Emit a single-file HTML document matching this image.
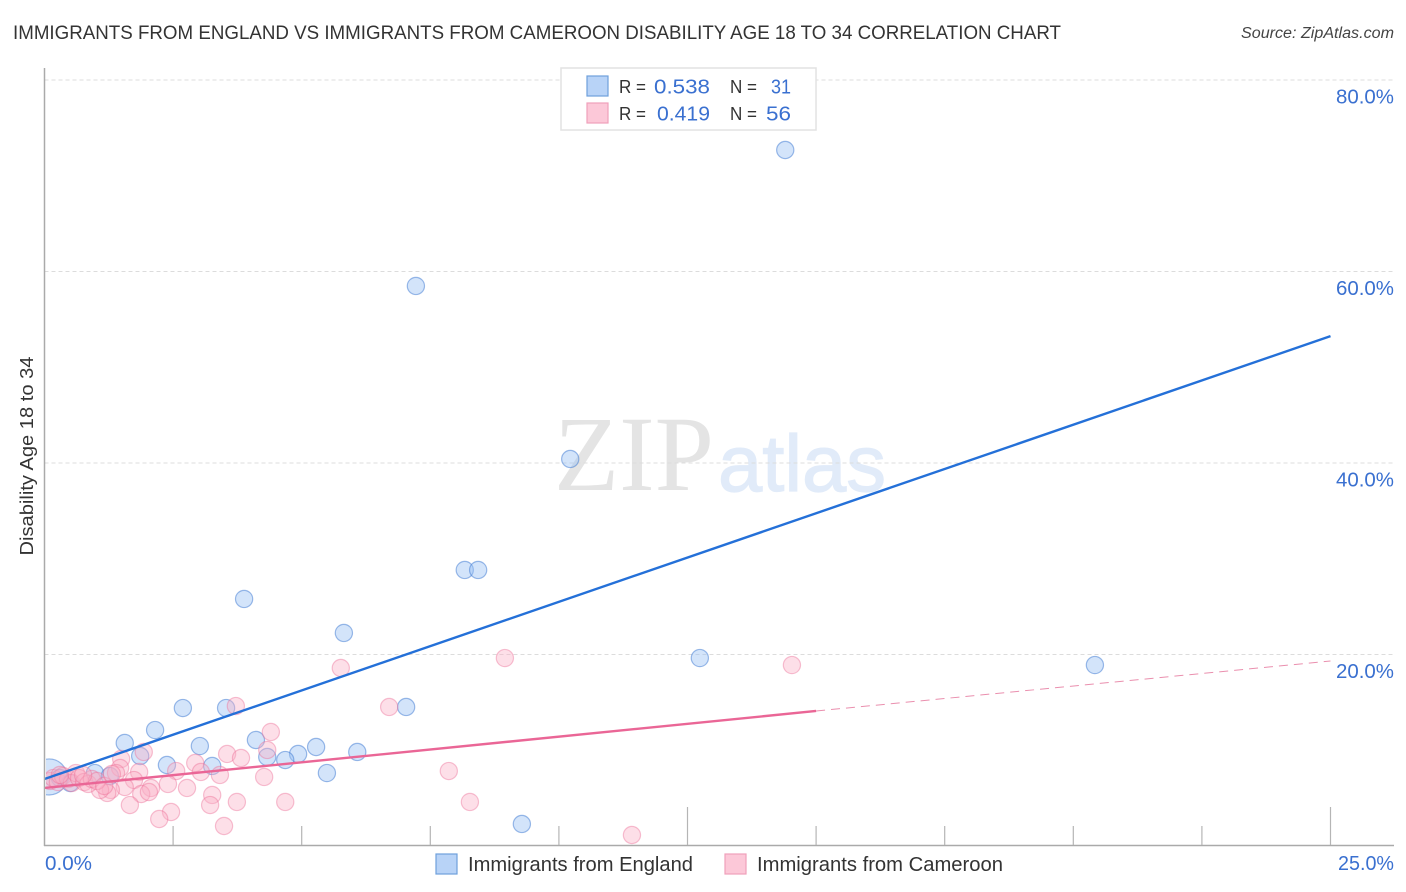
<!DOCTYPE html>
<html lang="en">
<head>
<meta charset="utf-8">
<title>Immigrants from England vs Immigrants from Cameroon Disability Age 18 to 34 Correlation Chart</title>
<style>
html,body{margin:0;padding:0;background:#fff;width:1406px;height:892px;overflow:hidden}
svg{display:block;font-family:"Liberation Sans",sans-serif}
</style>
</head>
<body>
<svg id="chart" width="1406" height="892" viewBox="0 0 1406 892">
  <defs>
    <clipPath id="plot-clip"><rect x="46" y="60" width="1350" height="786"/></clipPath>
  </defs>
  <rect width="1406" height="892" fill="#fff"/>
  <text x="13" y="39" font-size="19.5" fill="#333" textLength="1048" lengthAdjust="spacingAndGlyphs">IMMIGRANTS FROM ENGLAND VS IMMIGRANTS FROM CAMEROON DISABILITY AGE 18 TO 34 CORRELATION CHART</text>
  <text x="1394" y="38" font-size="15.5" font-style="italic" fill="#444" text-anchor="end" textLength="153" lengthAdjust="spacingAndGlyphs">Source: ZipAtlas.com</text>

  <g>
    <text x="554" y="490" font-family="'Liberation Serif',serif" font-size="107" fill="#e4e4e4" textLength="160" lengthAdjust="spacingAndGlyphs">ZIP</text>
    <text x="718" y="491" font-size="80" fill="#e1ebf9" stroke="#e1ebf9" stroke-width="1.2" textLength="168" lengthAdjust="spacingAndGlyphs">atlas</text>
  </g>

  <g id="grid"></g>
  <g id="england-points" clip-path="url(#plot-clip)"></g>
  <g id="cameroon-points" clip-path="url(#plot-clip)"></g>
  <rect x="0" y="740" width="46" height="75" fill="#fff"/>
  <g id="trends"></g>
  <g id="axes"></g>

  <text transform="translate(33,456) rotate(-90)" font-size="18.5" fill="#333" text-anchor="middle" textLength="199" lengthAdjust="spacingAndGlyphs">Disability Age 18 to 34</text>

  <g>
    <rect x="561" y="68" width="255" height="62" fill="#fff" stroke="#e2e2e2" stroke-width="1.5"/>
    <rect x="587" y="76" width="21" height="20" fill="#b8d3f7" stroke="#6fa0dc" stroke-width="1.2"/>
    <rect x="587" y="103" width="21" height="20" fill="#fcc8d8" stroke="#f0a0ba" stroke-width="1.2"/>
    <text x="619" y="93" font-size="18.5" fill="#333" textLength="27" lengthAdjust="spacingAndGlyphs">R =</text>
    <text x="654" y="93.5" font-size="20.5" fill="#3a70d0" textLength="56" lengthAdjust="spacingAndGlyphs">0.538</text>
    <text x="730" y="93" font-size="18.5" fill="#333" textLength="27" lengthAdjust="spacingAndGlyphs">N =</text>
    <text x="771" y="93.5" font-size="20.5" fill="#3a70d0" textLength="20" lengthAdjust="spacingAndGlyphs">31</text>
    <text x="619" y="120" font-size="18.5" fill="#333" textLength="27" lengthAdjust="spacingAndGlyphs">R =</text>
    <text x="657" y="120.5" font-size="20.5" fill="#3a70d0" textLength="53" lengthAdjust="spacingAndGlyphs">0.419</text>
    <text x="730" y="120" font-size="18.5" fill="#333" textLength="27" lengthAdjust="spacingAndGlyphs">N =</text>
    <text x="766" y="120.5" font-size="20.5" fill="#3a70d0" textLength="25" lengthAdjust="spacingAndGlyphs">56</text>
  </g>

  <g>
    <rect x="436" y="854" width="21" height="20" fill="#b8d3f7" stroke="#6fa0dc" stroke-width="1.2"/>
    <text x="468" y="871" font-size="20" fill="#333" textLength="225" lengthAdjust="spacingAndGlyphs">Immigrants from England</text>
    <rect x="725" y="854" width="21" height="20" fill="#fcc8d8" stroke="#f0a0ba" stroke-width="1.2"/>
    <text x="757" y="871" font-size="20" fill="#333" textLength="246" lengthAdjust="spacingAndGlyphs">Immigrants from Cameroon</text>
  </g>
</svg>
<script>
const yTickValues = [20, 40, 60, 80];
const yTickLabels = ['20.0%', '40.0%', '60.0%', '80.0%'];
const xTickValues = [2.5, 5, 7.5, 10, 12.5, 15, 17.5, 20, 22.5, 25];
const xMajorTicks = [12.5, 25];
const xEndLabels = ['0.0%', '25.0%'];

const englandX = [14.40,7.22,10.22,8.17,8.43,3.88,5.82,12.74,20.42,2.69,3.53,7.03,2.15,1.56,3.02,4.11,5.28,6.08,4.93,4.68,4.33,1.86,2.38,3.26,5.49,9.28,0.98,1.27,0.09,0.50,0.30];
const englandY = [72.69,58.49,40.42,28.83,28.83,25.80,22.25,19.63,18.90,14.41,14.41,14.52,12.11,10.76,10.44,11.07,10.34,9.82,9.61,8.98,9.30,9.40,8.46,8.36,7.62,2.30,7.62,7.31,7.21,6.58,7.10];
const englandWeight = [1,1,1,1,1,1,1,1,1,1,1,1,1,1,1,1,1,1,1,1,1,1,1,1,1,1,1,1,4.4,1,1];

const cameroonX = [5.76,3.72,4.40,1.93,1.49,4.33,3.55,3.82,2.93,2.56,3.04,3.41,4.27,1.84,1.47,1.39,1.74,2.40,2.77,1.56,2.07,1.88,2.03,1.29,1.22,1.08,1.66,3.26,3.22,3.74,4.68,2.46,2.23,3.49,8.95,14.53,6.70,7.86,8.27,11.42,0.11,0.17,0.26,0.36,0.46,0.53,0.61,0.67,0.77,0.85,0.92,1.02,0.75,1.16,0.30,1.31];
const cameroonY = [18.59,14.62,11.91,9.82,9.09,10.03,9.61,9.19,8.67,7.83,7.73,7.42,7.21,7.73,8.15,7.62,6.89,6.48,6.06,6.16,6.06,5.43,5.64,5.85,5.54,5.85,4.28,5.33,4.28,4.60,4.60,3.55,2.82,2.09,19.63,18.90,14.52,7.83,4.60,1.15,6.79,7.10,6.68,7.31,7.00,6.58,7.62,7.10,6.68,6.48,7.00,6.79,7.42,6.27,7.42,7.52];

const englandTrendX = [0, 25];
const englandTrendY = [7.00, 53.25];
const cameroonTrendX = [0, 15];
const cameroonTrendY = [6.06, 14.10];
const cameroonForecastX = [15, 25];
const cameroonForecastY = [14.10, 19.32];

const NS = 'http://www.w3.org/2000/svg';
function xScale(v) { return 44.5 + v * 51.44; }
function yScale(v) { return 846 - v * 9.575; }
function make(parent, tag, attrs) {
  const el = document.createElementNS(NS, tag);
  for (const k in attrs) el.setAttribute(k, attrs[k]);
  parent.appendChild(el);
  return el;
}

const grid = document.getElementById('grid');
const axes = document.getElementById('axes');
const englandGroup = document.getElementById('england-points');
const cameroonGroup = document.getElementById('cameroon-points');
const trends = document.getElementById('trends');

yTickValues.forEach(function (v, i) {
  const y = yScale(v);
  const line = make(grid, 'line', {x1: 44.5, x2: 1393, y1: y, y2: y, stroke: '#dcdcdc', 'stroke-width': 1, 'stroke-dasharray': '4 3'});
  
  
  const label = make(axes, 'text', {x: 1394, y: y + 23.5, 'font-size': 20, fill: '#3a70d0', 'text-anchor': 'end', textLength: 58, lengthAdjust: 'spacingAndGlyphs'});
  label.textContent = yTickLabels[i];
  
  
});

const yAxisLine = make(axes, 'line', {x1: 44.5, x2: 44.5, y1: 68, y2: 846, stroke: '#aaa', 'stroke-width': 1.5});


const xAxisLine = make(axes, 'line', {x1: 44, x2: 1394, y1: 845.5, y2: 845.5, stroke: '#aaa', 'stroke-width': 1.5});



xTickValues.forEach(function (v) {
  const x = xScale(v);
  const top = xMajorTicks.indexOf(v) >= 0 ? 807 : 826;
  const tick = make(axes, 'line', {x1: x, x2: x, y1: top, y2: 845, stroke: '#b5b5b5', 'stroke-width': 1.2});
  
  
});

const xLabelStart = make(axes, 'text', {x: 45, y: 870, 'font-size': 20, fill: '#3a70d0', textLength: 47, lengthAdjust: 'spacingAndGlyphs'});
xLabelStart.textContent = xEndLabels[0];


const xLabelEnd = make(axes, 'text', {x: 1394, y: 870, 'font-size': 20, fill: '#3a70d0', 'text-anchor': 'end', textLength: 56, lengthAdjust: 'spacingAndGlyphs'});
xLabelEnd.textContent = xEndLabels[1];



englandX.forEach(function (v, i) {
  const pt = make(englandGroup, 'circle', {
    cx: xScale(v), cy: yScale(englandY[i]), r: 8.6 * Math.sqrt(englandWeight[i]),
    fill: 'rgba(150,190,242,0.42)', stroke: 'rgba(60,120,210,0.5)', 'stroke-width': 1.2
  });
  
  
});

cameroonX.forEach(function (v, i) {
  const pt = make(cameroonGroup, 'circle', {
    cx: xScale(v), cy: yScale(cameroonY[i]), r: 8.6,
    fill: 'rgba(250,175,198,0.4)', stroke: 'rgba(235,110,150,0.42)', 'stroke-width': 1.2
  });
  
  
});

const englandTrend = make(trends, 'line', {
  x1: xScale(englandTrendX[0]), y1: yScale(englandTrendY[0]),
  x2: xScale(englandTrendX[1]), y2: yScale(englandTrendY[1]),
  stroke: '#2470d8', 'stroke-width': 2.4
});



const cameroonTrend = make(trends, 'line', {
  x1: xScale(cameroonTrendX[0]), y1: yScale(cameroonTrendY[0]),
  x2: xScale(cameroonTrendX[1]), y2: yScale(cameroonTrendY[1]),
  stroke: '#ea6696', 'stroke-width': 2.4
});



const cameroonForecast = make(trends, 'line', {
  x1: xScale(cameroonForecastX[0]), y1: yScale(cameroonForecastY[0]),
  x2: xScale(cameroonForecastX[1]), y2: yScale(cameroonForecastY[1]),
  stroke: '#ea8fae', 'stroke-width': 1, 'stroke-dasharray': '9 6'
});


</script>
</body>
</html>
